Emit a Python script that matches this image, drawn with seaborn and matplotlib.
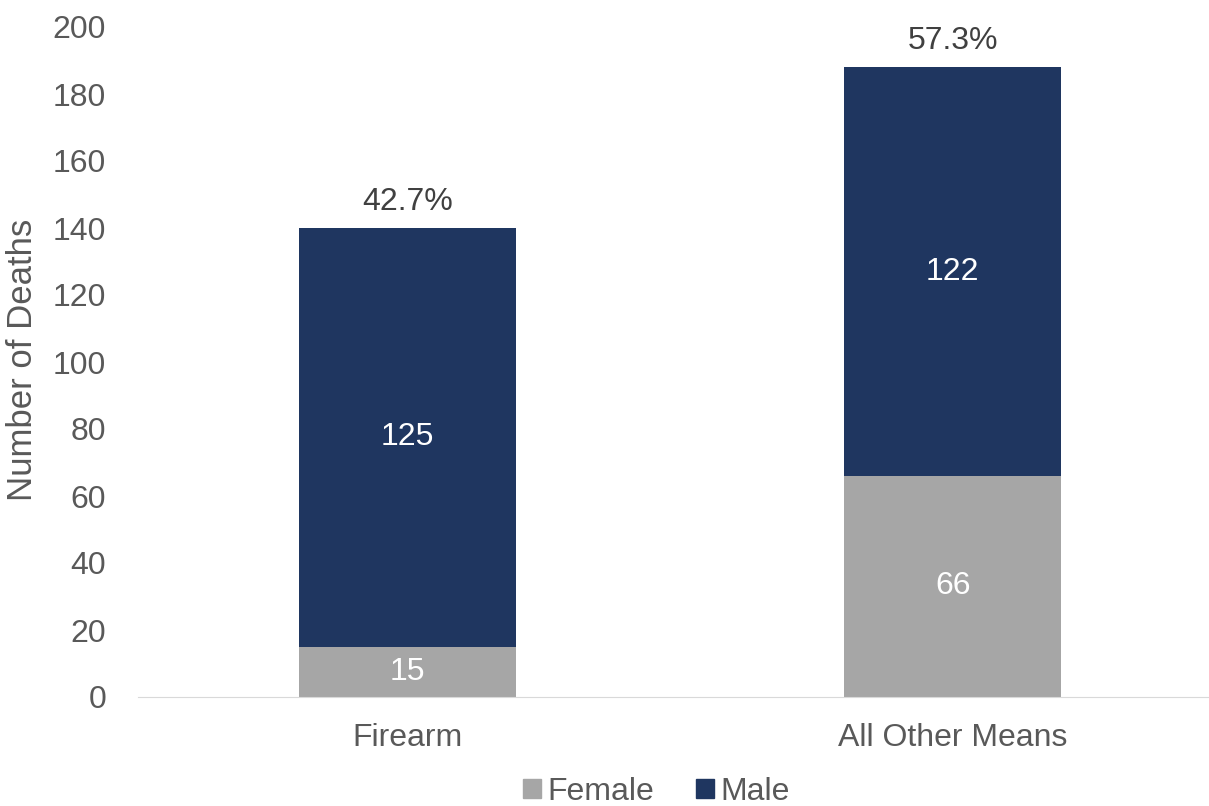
import matplotlib
matplotlib.use("Agg")
import matplotlib.pyplot as plt
import seaborn as sns
import pandas as pd
from matplotlib.patches import Patch

# chart data
MEANS = ["Firearm", "All Other Means"]
FEMALE = [15, 66]
MALE = [125, 122]
PERCENT = ["42.7%", "57.3%"]

MALE_COLOR = "#1F3660"
FEMALE_COLOR = "#A6A6A6"
TEXT_COLOR = "#595959"
FS = 23

sns.set_style("white")
plt.rcParams["font.family"] = ["Liberation Sans", "DejaVu Sans"]

totals = [f + m for f, m in zip(FEMALE, MALE)]
df = pd.DataFrame({"means": MEANS, "female": FEMALE, "total": totals})

fig = plt.figure(figsize=(12.09, 8.06), dpi=100)
ax = fig.add_axes([138 / 1209, 1 - 697 / 806, 1 - 138 / 1209, (697 - 27) / 806])

# stacked bars: full totals in male colour, female part drawn over it
sns.barplot(data=df, x="means", y="total", color=MALE_COLOR, width=0.398,
            saturation=1, linewidth=0, ax=ax)
sns.barplot(data=df, x="means", y="female", color=FEMALE_COLOR, width=0.398,
            saturation=1, linewidth=0, ax=ax)

for i in range(len(MEANS)):
    ax.text(i, FEMALE[i] / 2, str(FEMALE[i]), ha="center", va="center",
            color="white", fontsize=FS)
    ax.text(i, FEMALE[i] + MALE[i] / 2, str(MALE[i]), ha="center",
            va="center", color="white", fontsize=FS)
    ax.text(i, totals[i] + 7.8, PERCENT[i], ha="center", va="center",
            color="#404040", fontsize=FS)

ax.set_xlim(-0.495, 1.47)
ax.set_ylim(0, 200)
ax.set_yticks(range(0, 201, 20))
ax.tick_params(axis="both", labelsize=FS, labelcolor=TEXT_COLOR, length=0)
ax.tick_params(axis="x", pad=19)
ax.tick_params(axis="y", pad=23)
ax.set_xlabel("")
ax.set_ylabel("Number of Deaths", fontsize=25, color=TEXT_COLOR)
ax.yaxis.set_label_coords(-0.0925, 0.503)

sns.despine(ax=ax, left=True)
ax.spines["bottom"].set_color("#D9D9D9")

handles = [Patch(color=FEMALE_COLOR, label="Female"),
           Patch(color=MALE_COLOR, label="Male")]
fig.legend(handles=handles, loc="lower center", ncol=2, frameon=False,
           fontsize=FS, labelcolor=TEXT_COLOR, handlelength=0.55,
           handleheight=0.55, handletextpad=0.22, columnspacing=1.3,
           borderaxespad=0, borderpad=0.05,
           bbox_to_anchor=(0.543, -0.003))

fig.savefig("out.png", dpi=100)
